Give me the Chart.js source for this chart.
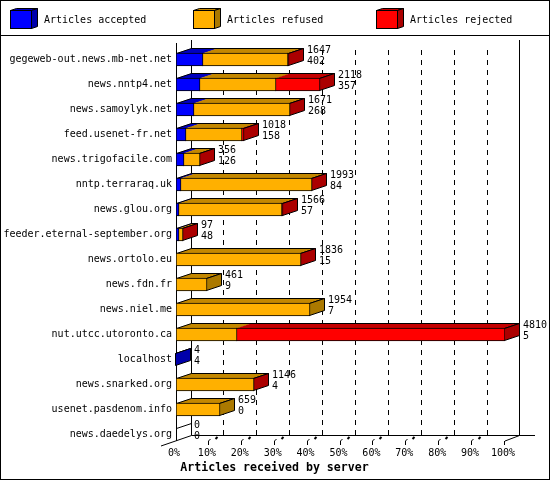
<!DOCTYPE html>
<html>
<head>
<meta charset="utf-8">
<style>
  html, body { margin: 0; padding: 0; background: #fff; }
  canvas { display: block; }
</style>
<script src="https://cdn.jsdelivr.net/npm/chart.js@4"></script>
</head>
<body>
<canvas id="chart" width="550" height="480"></canvas>
<script>
const servers = [
  "gegeweb-out.news.mb-net.net", "news.nntp4.net", "news.samoylyk.net",
  "feed.usenet-fr.net", "news.trigofacile.com", "nntp.terraraq.uk",
  "news.glou.org", "feeder.eternal-september.org", "news.ortolo.eu",
  "news.fdn.fr", "news.niel.me", "nut.utcc.utoronto.ca", "localhost",
  "news.snarked.org", "usenet.pasdenom.info", "news.daedelys.org",
];
// bar segments, in % of the axis
const accepted = [8.2, 7.3, 5.4, 3.0, 2.4, 1.5, 0.9, 1.0, 0, 0, 0, 0, 0.1, 0, 0, 0];
const refused = [25.7, 23.0, 29.2, 17.2, 4.9, 39.7, 31.4, 1.0, 37.9, 9.5, 40.6, 18.4, 0, 23.7, 13.4, 0];
const rejected = [0.3, 13.6, 0.1, 0.6, 0.1, 0.2, 0.2, 0.1, 0.2, 0, 0, 81.6, 0, 0.1, 0, 0];
// the two numbers printed next to each bar
const upperNumbers = [1647, 2118, 1671, 1018, 356, 1993, 1566, 97, 1836, 461, 1954, 4810, 4, 1146, 659, 0];
const lowerNumbers = [402, 357, 268, 158, 126, 84, 57, 48, 15, 9, 7, 5, 4, 4, 0, 0];
const seriesNames = ["Articles accepted", "Articles refused", "Articles rejected"];

const frontColors = ["#0000ff", "#ffb000", "#ff0000"];
const topColors = ["#0000c0", "#c48800", "#c40000"];
const sideColors = ["#0000ab", "#ab7900", "#ab0000"];

const FONT = '"DejaVu Sans Mono", monospace';
const DEPTH_X = 15;
const DEPTH_Y = 5;

function line(ctx, x1, y1, x2, y2) {
  ctx.beginPath();
  ctx.moveTo(x1, y1);
  ctx.lineTo(x2, y2);
  ctx.stroke();
}

function poly(ctx, pts, fill) {
  ctx.beginPath();
  pts.forEach((p, i) => (i ? ctx.lineTo(p[0], p[1]) : ctx.moveTo(p[0], p[1])));
  ctx.closePath();
  if (fill) {
    ctx.fillStyle = fill;
    ctx.fill();
  } else {
    ctx.stroke();
  }
}

function drawLegend(chart) {
  const ctx = chart.ctx;
  const starts = [10, 193, 376];
  ctx.save();
  ctx.strokeStyle = "#000";
  ctx.lineWidth = 1;
  ctx.strokeRect(0.5, 0.5, 549, 479);
  line(ctx, 0, 35.5, 550, 35.5);
  chart.data.datasets.forEach((ds, i) => {
    const x = starts[i] + 0.5;
    const y = 10.5;
    const top = [[x, y], [x + 6, y - 2], [x + 27, y - 2], [x + 21, y]];
    const side = [[x + 21, y], [x + 27, y - 2], [x + 27, y + 16], [x + 21, y + 18]];
    poly(ctx, top, topColors[i]);
    poly(ctx, top);
    poly(ctx, side, sideColors[i]);
    poly(ctx, side);
    ctx.fillStyle = frontColors[i];
    ctx.fillRect(x, y, 21, 18);
    ctx.strokeRect(x, y, 21, 18);
    ctx.fillStyle = "#000";
    ctx.font = "10px " + FONT;
    ctx.textBaseline = "middle";
    ctx.textAlign = "left";
    ctx.fillText(ds.label, starts[i] + 34, 20);
  });
  ctx.restore();
}

function drawWalls(chart) {
  const ctx = chart.ctx;
  const xs = chart.scales.x;
  const floorY = 435.5;
  ctx.save();
  ctx.strokeStyle = "#000";
  ctx.lineWidth = 1;

  ctx.setLineDash([5, 5]);
  for (let v = 10; v < 100; v += 10) {
    const gx = Math.floor(xs.getPixelForValue(v) + DEPTH_X) + 0.5;
    line(ctx, gx, 50, gx, floorY);
  }
  ctx.setLineDash([]);

  const left = xs.getPixelForValue(0) + 0.5;
  const right = xs.getPixelForValue(100);
  line(ctx, left, 43, left, 441);
  line(ctx, left + DEPTH_X, 40, left + DEPTH_X, floorY);
  line(ctx, right + DEPTH_X - 0.5, 40, right + DEPTH_X - 0.5, floorY);
  line(ctx, left + DEPTH_X, floorY, 535, floorY);
  line(ctx, 161, 446, left + DEPTH_X, floorY);
  line(ctx, right, 441, right + DEPTH_X - 0.5, floorY);

  for (let v = 10; v <= 100; v += 10) {
    const tx = Math.round(xs.getPixelForValue(v)) - 0.5;
    line(ctx, tx, 445, tx, 441);
    if (v < 100) {
      line(ctx, tx, 441, tx + 2, 439);
      ctx.lineWidth = 2;
      line(ctx, tx + 7, 439, tx + 9, 437);
      ctx.lineWidth = 1;
    }
  }
  ctx.restore();
}

function drawBarDepth(chart) {
  const ctx = chart.ctx;
  const metas = chart.data.datasets.map((_, i) => chart.getDatasetMeta(i));
  ctx.save();
  ctx.strokeStyle = "#000";
  ctx.lineWidth = 1;
  servers.forEach((_, row) => {
    const segs = [];
    metas.forEach((meta, i) => {
      if (chart.data.datasets[i].data[row] > 0) segs.push({ el: meta.data[row], i });
    });
    const ref = metas[0].data[row];
    const top = ref.y - ref.height / 2 + 0.5;
    const bottom = ref.y + ref.height / 2 - 0.5;
    const start = chart.scales.x.getPixelForValue(0) + 0.5;
    if (!segs.length) {
      line(ctx, start, top, start + DEPTH_X, top - DEPTH_Y);
      return;
    }
    segs.forEach((s) => {
      const a = s.el.base;
      const b = s.el.x;
      poly(ctx, [[a, top], [a + DEPTH_X, top - DEPTH_Y], [b + DEPTH_X, top - DEPTH_Y], [b, top]], topColors[s.i]);
    });
    const last = segs[segs.length - 1];
    const end = last.el.x - 0.5;
    const outline = [[start, top], [start + DEPTH_X, top - DEPTH_Y], [end + DEPTH_X, top - DEPTH_Y], [end, top]];
    poly(ctx, outline);
    const side = [[end, top], [end + DEPTH_X, top - DEPTH_Y], [end + DEPTH_X, bottom - DEPTH_Y], [end, bottom]];
    poly(ctx, side, sideColors[last.i]);
    poly(ctx, side);
  });
  ctx.restore();
}

function drawNumbers(chart) {
  const ctx = chart.ctx;
  const metas = chart.data.datasets.map((_, i) => chart.getDatasetMeta(i));
  ctx.save();
  ctx.fillStyle = "#000";
  ctx.font = "10px " + FONT;
  ctx.textAlign = "left";
  ctx.textBaseline = "middle";
  servers.forEach((_, row) => {
    const end = Math.max(...metas.map((m) => m.data[row].x));
    const x = end + DEPTH_X + 3;
    const y = metas[0].data[row].y;
    ctx.fillText(String(upperNumbers[row]), x, y - 9);
    ctx.fillText(String(lowerNumbers[row]), x, y + 2);
  });
  ctx.restore();
}

const box3d = {
  id: "box3d",
  afterLayout(chart) {
    // the title is centred on the whole canvas, not on the padded area
    chart.titleBlock.right += 44;
  },
  afterDatasetsUpdate(chart) {
    // snap stacked segments to whole pixels so shared edges stay one pixel wide
    const left = chart.chartArea.left;
    chart.data.datasets.forEach((ds, i) => {
      chart.getDatasetMeta(i).data.forEach((el, row) => {
        el.x = Math.round(el.x);
        el.base = Math.round(el.base);
        if (ds.data[row] > 0 && el.base > left) el.base -= 1;
      });
    });
  },
  beforeDatasetsDraw(chart) {
    drawLegend(chart);
    drawWalls(chart);
    drawBarDepth(chart);
  },
  afterDatasetsDraw(chart) {
    drawNumbers(chart);
  },
};

new Chart(document.getElementById("chart"), {
  type: "bar",
  data: {
    labels: servers,
    datasets: [accepted, refused, rejected].map((values, i) => ({
      label: seriesNames[i],
      data: values,
      backgroundColor: frontColors[i],
      borderColor: "#000",
      borderWidth: 1,
      borderSkipped: false,
      barThickness: 13,
    })),
  },
  plugins: [box3d],
  options: {
    indexAxis: "y",
    responsive: false,
    animation: false,
    layout: { padding: { top: 47, right: 45, left: 0, bottom: 0 } },
    plugins: {
      legend: { display: false },
      tooltip: { enabled: false },
      title: {
        display: true,
        position: "bottom",
        text: "Articles received by server",
        color: "#000",
        font: { family: FONT, size: 11.6, weight: "bold", lineHeight: "14px" },
        padding: { top: 0, bottom: 5 },
      },
    },
    scales: {
      x: {
        stacked: true,
        min: 0,
        max: 100,
        grid: { display: false, drawTicks: false },
        border: { display: false },
        ticks: {
          stepSize: 10,
          autoSkip: false,
          maxRotation: 0,
          padding: 0,
          labelOffset: -2,
          color: "#000",
          font: { family: FONT, size: 10 },
          callback: (v) => v + "%",
        },
        afterFit(scale) {
          scale.height = 14;
        },
      },
      y: {
        stacked: true,
        grid: { display: false, drawTicks: false },
        border: { display: false },
        ticks: {
          autoSkip: false,
          padding: 4,
          color: "#000",
          font: { family: FONT, size: 10 },
        },
        afterFit(scale) {
          scale.width = 176;
        },
      },
    },
  },
});
</script>
</body>
</html>
